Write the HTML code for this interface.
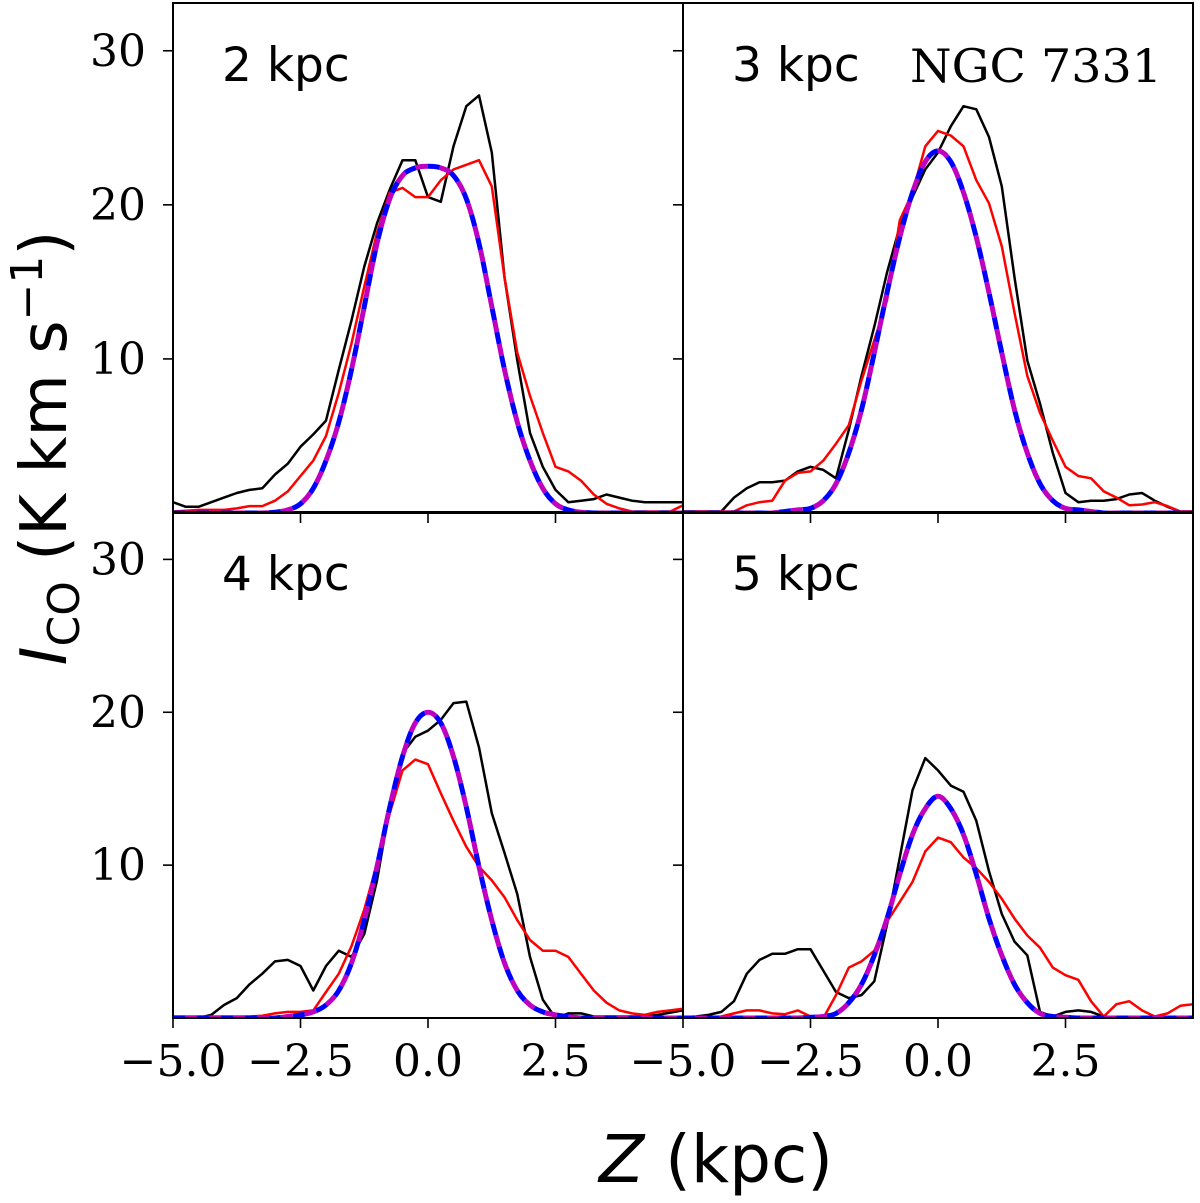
<!DOCTYPE html>
<html><head><meta charset="utf-8"><style>
html,body{margin:0;padding:0;background:#fff;}
svg{display:block;}
</style></head><body>
<svg id="chart" width="1200" height="1203" xmlns="http://www.w3.org/2000/svg">
<text transform="translate(66,448) rotate(-90)" text-anchor="middle" font-family="DejaVu Sans, sans-serif" font-size="64"><tspan font-style="italic">I</tspan><tspan font-size="44" dy="13">CO</tspan><tspan dy="-13"> (K km s</tspan><tspan font-size="44" dy="-24">−1</tspan><tspan dy="24">)</tspan></text>
<text x="716" y="1182" text-anchor="middle" font-family="DejaVu Sans, sans-serif" font-size="66"><tspan font-style="italic">Z</tspan> (kpc)</text>
</svg>
<script>
const zGrid = [-5,-4.75,-4.5,-4.25,-4,-3.75,-3.5,-3.25,-3,-2.75,-2.5,-2.25,-2,-1.75,-1.5,-1.25,-1,-0.75,-0.5,-0.25,0,0.25,0.5,0.75,1,1.25,1.5,1.75,2,2.25,2.5,2.75,3,3.25,3.5,3.75,4,4.25,4.5,4.75,5];
const panelLabels = ["2 kpc","3 kpc","4 kpc","5 kpc"];
const xTicks = [-5.0,-2.5,0.0,2.5];
const xTickLabels = ["−5.0","−2.5","0.0","2.5"];
const yTicks = [10,20,30];
const yTickLabels = ["10","20","30"];
const obs2 = [0.7,0.4,0.4,0.7,1.0,1.3,1.5,1.6,2.5,3.2,4.3,5.1,6.0,9.3,12.5,16.0,18.8,21.0,22.9,22.9,20.5,20.2,23.8,26.4,27.1,23.4,15.3,9.9,5.2,3.0,1.5,0.7,0.8,0.9,1.2,1.0,0.8,0.7,0.7,0.7,0.7];
const mod2 = [0.1,0.15,0.2,0.2,0.2,0.3,0.45,0.45,0.8,1.4,2.4,3.4,5.0,7.8,11.0,14.7,18.2,20.8,21.1,20.5,20.5,21.6,22.3,22.6,22.9,21.2,15.3,10.4,7.6,5.2,3.0,2.7,2.1,1.2,0.6,0.3,0.1,0.1,0.1,0.1,0.5];
const fit2 = [0,0,0,0,0,0,0,0,0.05,0.2,0.6,1.6,3.4,5.9,9.3,13.4,17.5,20.4,21.9,22.4,22.5,22.4,21.9,20.4,17.5,13.4,9.3,5.9,3.4,1.6,0.6,0.2,0.05,0,0,0,0,0,0,0,0];
const obs3 = [0.1,0.1,0.1,0.1,1.0,1.6,2.0,2.0,2.1,2.7,3.0,2.8,2.25,5.4,8.9,12.1,15.6,18.6,20.5,22.3,23.4,25.1,26.4,26.2,24.4,21.2,15.3,9.9,7.1,3.9,1.3,0.7,0.8,0.8,0.9,1.2,1.3,0.8,0.4,0.1,0.1];
const mod3 = [0.1,0.1,0.1,0.1,0.1,0.5,0.7,0.8,2.1,2.6,2.7,3.4,4.5,5.7,8.6,11.2,13.8,19.0,20.8,23.8,24.8,24.5,23.8,21.6,20.1,17.3,13.0,8.9,6.5,4.7,3.0,2.4,2.25,1.4,1.0,0.5,0.55,0.7,0.45,0.1,0.1];
const fit3 = [0,0,0,0,0,0,0,0,0.1,0.2,0.3,0.8,1.9,3.9,6.7,10.4,14.3,17.9,20.8,22.8,23.5,22.8,20.8,17.9,14.3,10.4,6.7,3.9,1.9,0.8,0.3,0.2,0.1,0,0,0,0,0,0,0,0];
const obs4 = [0,0,0,0.2,0.85,1.3,2.2,2.9,3.7,3.8,3.4,1.8,3.4,4.4,4.0,5.5,9.0,13.8,17.3,18.4,18.8,19.5,20.6,20.7,17.7,13.4,10.8,8.1,4.0,1.2,0,0.3,0.3,0.1,0.1,0.1,0.1,0.1,0.2,0.35,0.5];
const mod4 = [0.1,0.1,0.1,0.1,0.1,0.1,0.1,0.15,0.3,0.4,0.4,0.5,1.7,2.9,4.7,7.1,10.1,13.4,16.2,16.9,16.6,14.7,12.9,11.2,9.9,9.0,7.9,6.4,5.1,4.4,4.4,4.0,2.9,1.8,1.0,0.5,0.3,0.2,0.4,0.5,0.6];
const fit4 = [0,0,0,0,0,0,0,0,0,0.1,0.2,0.4,0.85,1.8,3.6,6.4,9.9,13.8,17.1,19.3,20.0,19.3,17.1,13.8,9.9,6.4,3.6,1.8,0.85,0.4,0.2,0.1,0,0,0,0,0,0,0,0,0];
const obs5 = [0.05,0.1,0.2,0.4,1.1,2.9,3.8,4.2,4.2,4.5,4.5,3.1,1.7,1.3,1.5,2.4,6.1,10.5,14.9,17.0,16.2,15.2,14.8,12.9,9.6,6.8,5.0,4.1,0.4,0.1,0.4,0.5,0.4,0.1,0.05,0.05,0.05,0.05,0.05,0.05,0.05];
const mod5 = [0.05,0.05,0.05,0.1,0.3,0.5,0.5,0.3,0.25,0.5,0.1,0,1.5,3.3,3.7,4.4,6.3,7.6,8.9,10.9,11.8,11.5,10.5,9.8,8.9,7.8,6.5,5.4,4.6,3.3,2.8,2.5,1.1,0.1,0.9,1.1,0.5,0.1,0.3,0.8,0.9];
const fit5 = [0,0,0,0,0,0,0,0,0,0,0.05,0.1,0.3,1.0,2.2,4.1,6.5,9.4,12.0,13.7,14.5,13.7,12.0,9.4,6.5,4.1,2.2,1.0,0.3,0.1,0.05,0,0,0,0,0,0,0,0,0,0];
const obsSeries = [obs2,obs3,obs4,obs5];
const modSeries = [mod2,mod3,mod4,mod5];
const fitSeries = [fit2,fit3,fit4,fit5];

const NS = "http://www.w3.org/2000/svg";
const svg = document.getElementById("chart");
const panels = [{x:173,y:3,w:510,h:510},{x:683,y:3,w:510,h:510},{x:173,y:512,w:510,h:506},{x:683,y:512,w:510,h:506}];
const zMin=-5, zMax=5, vMin=0, vMax=33.1;
function mk(tag, attrs){const e=document.createElementNS(NS,tag);for(const k in attrs)e.setAttribute(k,attrs[k]);return e;}
function pts(p, arr){
  const sx=z=>p.x+(z-zMin)/(zMax-zMin)*p.w;
  const sy=v=>p.y+p.h-(v-vMin)/(vMax-vMin)*p.h;
  return arr.map((v,i)=>[sx(zGrid[i]),sy(v)]);
}
function path(p, arr){
  return pts(p,arr).map((q,i)=>(i?"L":"M")+q[0].toFixed(1)+","+q[1].toFixed(1)).join(" ");
}
function smoothPath(p, arr){
  const P=pts(p,arr);let d="M"+P[0][0].toFixed(1)+","+P[0][1].toFixed(1);
  for(let i=0;i<P.length-1;i++){
    const p0=P[Math.max(0,i-1)],p1=P[i],p2=P[i+1],p3=P[Math.min(P.length-1,i+2)];
    const c1=[p1[0]+(p2[0]-p0[0])/6,p1[1]+(p2[1]-p0[1])/6];
    const c2=[p2[0]-(p3[0]-p1[0])/6,p2[1]-(p3[1]-p1[1])/6];
    d+=" C"+c1[0].toFixed(1)+","+c1[1].toFixed(1)+" "+c2[0].toFixed(1)+","+c2[1].toFixed(1)+" "+p2[0].toFixed(1)+","+p2[1].toFixed(1);
  }
  return d;
}
const defs=mk("defs",{});svg.appendChild(defs);
panels.forEach((p,i)=>{
  const cp=mk("clipPath",{id:"clip"+i});cp.appendChild(mk("rect",{x:p.x,y:p.y,width:p.w,height:p.h}));defs.appendChild(cp);
  const g=mk("g",{"clip-path":"url(#clip"+i+")"});
  
  
  svg.appendChild(g);
  const ob=mk("path",{d:path(p,obsSeries[i]),fill:"none",stroke:"#000","stroke-width":2.5,"stroke-linejoin":"round"});
  
  
  g.appendChild(ob);
  const md=mk("path",{d:path(p,modSeries[i]),fill:"none",stroke:"#ff0000","stroke-width":2.5,"stroke-linejoin":"round"});
  
  
  g.appendChild(md);
  const fb=mk("path",{d:smoothPath(p,fitSeries[i]),fill:"none",stroke:"#0000ff","stroke-width":5,"stroke-dasharray":"12 12"});
  
  
  g.appendChild(fb);
  const fm=mk("path",{d:smoothPath(p,fitSeries[i]),fill:"none",stroke:"#bf00bf","stroke-width":5,"stroke-dasharray":"12 12","stroke-dashoffset":12});
  
  
  g.appendChild(fm);
  const fr=mk("rect",{x:p.x,y:p.y,width:p.w,height:p.h,fill:"none",stroke:"#000","stroke-width":2});
  
  
  svg.appendChild(fr);
  const lb=mk("text",{x:p.x+49,y:p.y+78,"font-family":"DejaVu Sans, sans-serif","font-size":47});
  lb.textContent=panelLabels[i];
  
  
  svg.appendChild(lb);
  yTicks.forEach((t,k)=>{
    const y=p.y+p.h-(t-vMin)/(vMax-vMin)*p.h;
    const tk=mk("line",{x1:p.x-10,x2:p.x,y1:y,y2:y,stroke:"#000","stroke-width":1.6});
    
    
    svg.appendChild(tk);
    if(p.x<300){
      const tl=mk("text",{x:p.x-27,y:y+15,"text-anchor":"end","font-family":"DejaVu Serif, Liberation Serif, serif","font-size":44});
      tl.textContent=yTickLabels[k];
      
      
      svg.appendChild(tl);
    }
  });
  xTicks.forEach((t,k)=>{
    const x=p.x+(t-zMin)/(zMax-zMin)*p.w;
    const tk=mk("line",{x1:x,x2:x,y1:p.y+p.h,y2:p.y+p.h+10,stroke:"#000","stroke-width":1.6});
    
    
    svg.appendChild(tk);
    if(p.y>300){
      const tl=mk("text",{x:x,y:p.y+p.h+58,"text-anchor":"middle","font-family":"DejaVu Serif, Liberation Serif, serif","font-size":44});
      tl.textContent=xTickLabels[k];
      
      
      svg.appendChild(tl);
    }
  });
});
const ngc=mk("text",{x:910,y:82,"font-family":"DejaVu Serif, Liberation Serif, serif","font-size":46,"textLength":252,"lengthAdjust":"spacingAndGlyphs"});
ngc.textContent="NGC 7331";


svg.appendChild(ngc);
</script>
</body></html>
